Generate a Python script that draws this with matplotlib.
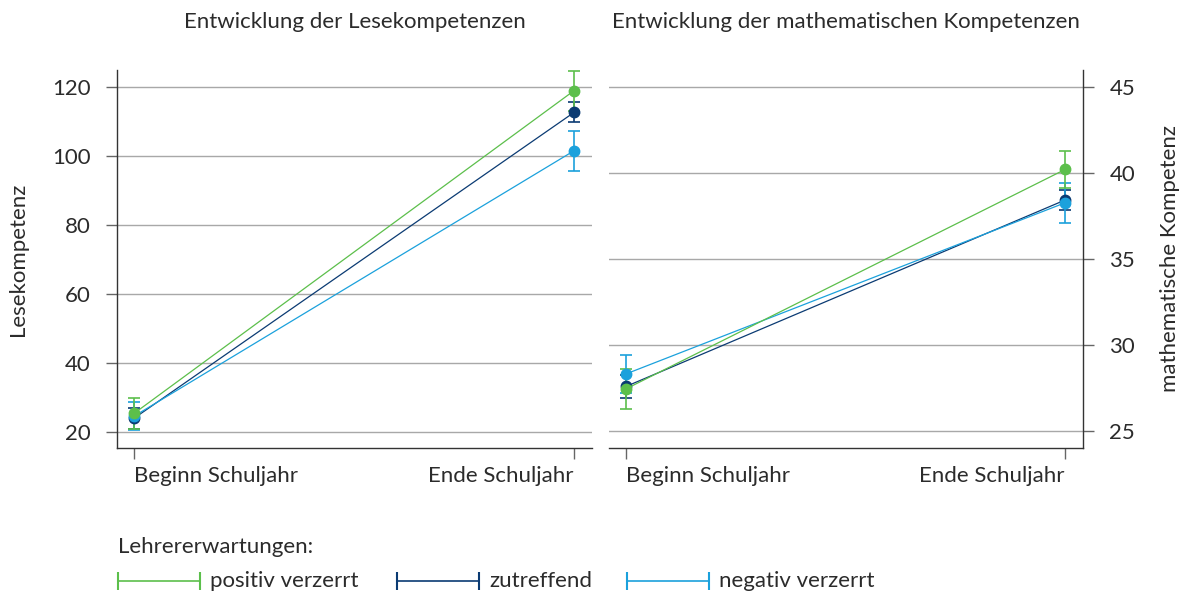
import numpy as np
import matplotlib.pyplot as plt
from matplotlib.lines import Line2D

plt.rcParams['font.family'] = ['Lato', 'DejaVu Sans']

# Daten
zeitpunkte = ['Beginn Schuljahr', 'Ende Schuljahr']
gruppen = ['positiv verzerrt', 'zutreffend', 'negativ verzerrt']
farben = {'positiv verzerrt': '#5cbf4b', 'zutreffend': '#0b3b73', 'negativ verzerrt': '#1ba1dc'}

lesen_mw = {'positiv verzerrt': [25.4, 118.9],
            'zutreffend': [24.0, 112.6],
            'negativ verzerrt': [24.6, 101.5]}
lesen_ci = {'positiv verzerrt': [4.5, 5.8],
            'zutreffend': [3.0, 2.9],
            'negativ verzerrt': [4.0, 5.8]}

mathe_mw = {'positiv verzerrt': [27.44, 40.21],
            'zutreffend': [27.58, 38.43],
            'negativ verzerrt': [28.31, 38.27]}
mathe_ci = {'positiv verzerrt': [1.16, 1.08],
            'zutreffend': [0.66, 0.6],
            'negativ verzerrt': [1.13, 1.16]}

lesen_ticks = [20, 40, 60, 80, 100, 120]
mathe_ticks = [25, 30, 35, 40, 45]

txt = '#2b2b2b'
grid = '#a8a8a8'
fs = 16

fig = plt.figure(figsize=(11.84, 5.97), dpi=100)
W, H = 1184, 597
ax1 = fig.add_axes([117/W, 1-448/H, 475/W, 378/H])
ax2 = fig.add_axes([609/W, 1-448/H, 474/W, 378/H])

x = np.arange(len(zeitpunkte))
reihenfolge = ['zutreffend', 'negativ verzerrt', 'positiv verzerrt']

for ax, mw, ci in [(ax1, lesen_mw, lesen_ci), (ax2, mathe_mw, mathe_ci)]:
    for g in reihenfolge:
        ax.errorbar(x, mw[g], yerr=ci[g], color=farben[g], lw=0.9, elinewidth=1.2,
                    capsize=4, capthick=1.2, marker='o', markersize=7.5, zorder=3)
    ax.set_xlim(-0.0386, 1.041)
    ax.set_xticks(x)
    ax.set_xticklabels(zeitpunkte)
    labs = ax.get_xticklabels()
    labs[0].set_horizontalalignment('left')
    labs[1].set_horizontalalignment('right')
    ax.grid(axis='y', color=grid, lw=1)
    ax.set_axisbelow(True)
    ax.tick_params(axis='x', length=8, width=1, color='#666666', labelsize=fs, labelcolor=txt, pad=5)
    ax.tick_params(axis='y', length=8, width=1, color='#666666', labelsize=fs, labelcolor=txt, pad=11)
    ax.spines['top'].set_visible(False)
    for s in ax.spines.values():
        s.set_color('#333333')
        s.set_linewidth(1)

ax1.set_ylim(15.4, 124.9)
ax1.set_yticks(lesen_ticks)
ax1.spines['right'].set_visible(False)
ax1.set_ylabel('Lesekompetenz', fontsize=fs, color=txt, labelpad=17)
ax1.set_title('Entwicklung der Lesekompetenzen', fontsize=fs, color=txt, pad=30)

ax2.set_ylim(24.0, 46.0)
ax2.set_yticks(mathe_ticks)
ax2.spines['left'].set_visible(False)
ax2.yaxis.tick_right()
ax2.yaxis.set_label_position('right')
ax2.set_ylabel('mathematische Kompetenz', fontsize=fs, color=txt, labelpad=18)
ax2.set_title('Entwicklung der mathematischen Kompetenzen', fontsize=fs, color=txt, pad=30)

# Legende
fig.text(118/W, 1-547/H, 'Lehrererwartungen:', fontsize=fs, color=txt, va='center')
starts = [118, 397, 627]
for g, s in zip(gruppen, starts):
    fig.add_artist(Line2D([s/W, (s+82)/W], [1-581/H, 1-581/H], color=farben[g], lw=1.2,
                          marker='|', markersize=13, markeredgewidth=1.5, transform=fig.transFigure))
    fig.text((s+92)/W, 1-581/H, g, fontsize=fs, color=txt, va='center')

fig.savefig('out.png', dpi=100)
